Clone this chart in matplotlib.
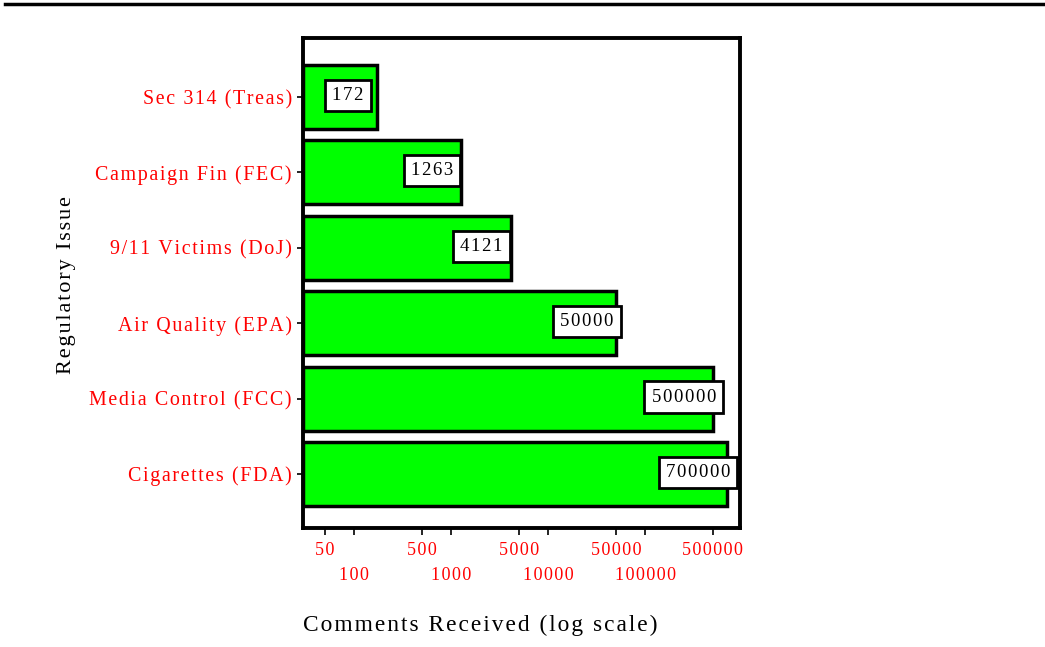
import matplotlib
matplotlib.use("Agg")
import matplotlib.pyplot as plt
from matplotlib.lines import Line2D

categories = ["Cigarettes (FDA)", "Media Control (FCC)", "Air Quality (EPA)",
              "9/11 Victims (DoJ)", "Campaign Fin (FEC)", "Sec 314 (Treas)"]
values = [700000, 500000, 50000, 4121, 1263, 172]
tick_values = [50, 100, 500, 1000, 5000, 10000, 50000, 100000, 500000]
tick_labels = ["50", "100", "500", "1000", "5000", "10000", "50000", "100000", "500000"]

plt.rcParams['font.family'] = ['Liberation Serif', 'DejaVu Serif']

HS = '\u200a'


def spaced(s):
    return HS.join(s)


fig = plt.figure(figsize=(10.45, 6.47), dpi=100)
ax = fig.add_axes([0.290, 0.184, 0.418, 0.757])

XMIN, XMAX = 29.7, 948000
ax.set_xscale('log')
ypos = list(range(len(categories)))
widths = [v - XMIN for v in values]
ax.barh(ypos, widths, left=XMIN, height=0.85, color='#00FF00',
        edgecolor='black', linewidth=2.5, zorder=2)

for y, v in zip(ypos, values):
    ax.text(v / 2.0, y + 0.02, spaced(str(v)), ha='center', va='center', fontsize=13.5,
            color='black', zorder=3,
            bbox=dict(boxstyle='square,pad=0.38', facecolor='white',
                      edgecolor='black', linewidth=2))

ax.set_xlim(XMIN, XMAX)
ax.set_ylim(-0.716, 5.78)
ax.set_yticks(ypos)
ax.set_yticklabels([spaced(c) for c in categories], color='#FF0000', fontsize=14.4)
ax.set_xticks(tick_values)
ax.set_xticklabels([spaced(t) for t in tick_labels], color='#FF0000', fontsize=13)
ax.xaxis.set_minor_locator(matplotlib.ticker.NullLocator())
ax.tick_params(axis='x', length=5, width=1.2, direction='out')
ax.tick_params(axis='y', length=4, width=1.2, direction='out', pad=4)
for i, t in enumerate(ax.xaxis.get_major_ticks()):
    t.set_pad(5 if i % 2 == 0 else 23)

for s in ax.spines.values():
    s.set_linewidth(2.8)

ax.set_xlabel(spaced("Comments Received (log scale)"), fontsize=16.8)
ax.xaxis.set_label_coords(0.405, -0.178)
ax.set_ylabel(spaced("Regulatory Issue"), fontsize=16)
ax.yaxis.set_label_coords(-0.519, 0.496)

fig.add_artist(Line2D([0.005, 1.0], [0.994, 0.994], color='black', linewidth=2.5,
                      transform=fig.transFigure))

fig.savefig("out.png", dpi=100)
